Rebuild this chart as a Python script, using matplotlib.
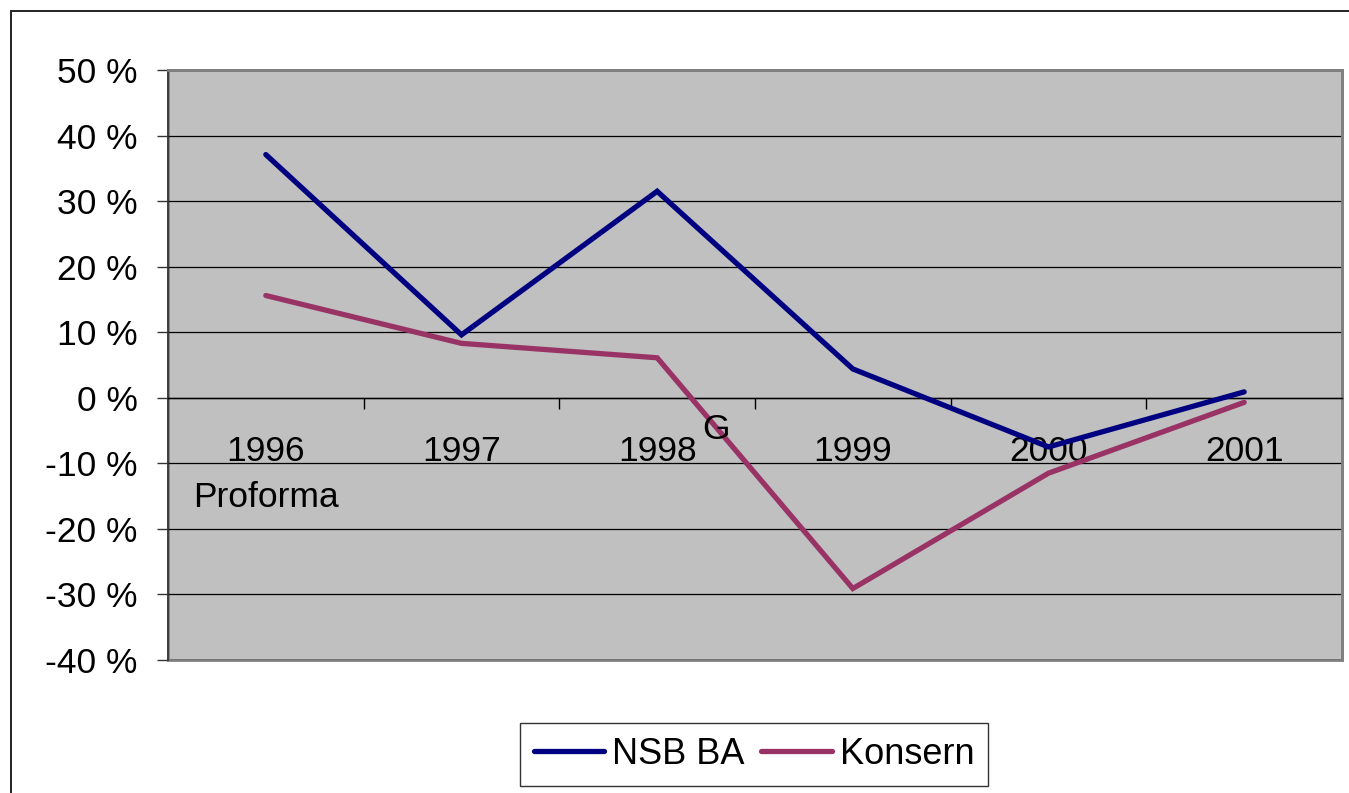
import matplotlib

matplotlib.use("Agg")

import matplotlib.pyplot as plt
from matplotlib.lines import Line2D
from matplotlib.patches import Rectangle

plt.rcParams["font.family"] = ["Liberation Sans", "DejaVu Sans"]

# ── Data ─────────────────────────────────────────────────────────────────────
years = ["1996\nProforma", "1997", "1998", "1999", "2000", "2001"]
nsb_ba = [37.1, 9.6, 31.5, 4.4, -7.5, 0.9]
konsern = [15.6, 8.3, 6.1, -29.1, -11.5, -0.7]
y_ticks = [-40, -30, -20, -10, 0, 10, 20, 30, 40, 50]

NAVY = "#000080"
PLUM = "#993366"

W, H = 1349, 793
fig = plt.figure(figsize=(W / 100, H / 100), dpi=100)
fig.patch.set_facecolor("white")

# outer chart frame (runs off the right and bottom edges)
fig.patches.append(
    Rectangle((11 / W, -0.2), 1.2, (H - 11) / H + 0.2, transform=fig.transFigure,
              fill=False, edgecolor="#222222", linewidth=1.4)
)

ax = fig.add_axes([168 / W, (H - 660) / H, (1342 - 168) / W, (660 - 70) / H])
ax.set_facecolor("#C0C0C0")

x = list(range(len(years)))
ax.plot(x, nsb_ba, color=NAVY, lw=3.8, solid_capstyle="round",
        solid_joinstyle="miter", zorder=3)
ax.plot(x, konsern, color=PLUM, lw=3.8, solid_capstyle="round",
        solid_joinstyle="miter", zorder=3)

ax.set_xlim(-0.5, len(years) - 0.5)
ax.set_ylim(-40, 50)

# gridlines
ax.set_yticks(y_ticks)
ax.set_yticklabels([f"{v} %" for v in y_ticks], fontsize=25.5)
ax.yaxis.grid(True, color="black", lw=0.9)
ax.set_axisbelow(True)
ax.tick_params(axis="y", direction="out", length=8, width=1, pad=14, color="#333333")

# category axis crosses at zero
ax.spines["bottom"].set_position(("data", 0))
ax.spines["bottom"].set_color("black")
ax.spines["bottom"].set_linewidth(1)
ax.spines["left"].set_color("#333333")
ax.spines["left"].set_linewidth(1.2)
for s in ["top", "right"]:
    ax.spines[s].set_color("#808080")
    ax.spines[s].set_linewidth(2)
ax.add_patch(Rectangle((0, 0), 1, 1, transform=ax.transAxes, fill=False,
                       edgecolor="#808080", lw=2, zorder=0.5, clip_on=False))

ax.set_xticks(x)
ax.set_xticklabels(years, fontsize=25.5, linespacing=1.5)
ax.set_xticks([i + 0.5 for i in x[:-1]], minor=True)
ax.tick_params(axis="x", which="major", length=0, pad=27)
ax.tick_params(axis="x", which="minor", direction="out", length=8, width=1, color="black")

ax.text(2.3, -4.8, "G", fontsize=25.5, ha="center", va="center", zorder=4)

handles = [Line2D([], [], color=NAVY, lw=3.8, solid_capstyle="round"),
           Line2D([], [], color=PLUM, lw=3.8, solid_capstyle="round")]
leg = fig.legend(handles, ["NSB BA", "Konsern"], loc="center",
                 bbox_to_anchor=(754 / W, (H - 754.5) / H), ncol=2, fontsize=26,
                 frameon=True, fancybox=False, handlelength=1.95, handletextpad=0.22,
                 columnspacing=0.47, borderpad=0.38, borderaxespad=0)
leg.get_frame().set_edgecolor("black")
leg.get_frame().set_linewidth(1)

fig.savefig("out.png", dpi=100)
